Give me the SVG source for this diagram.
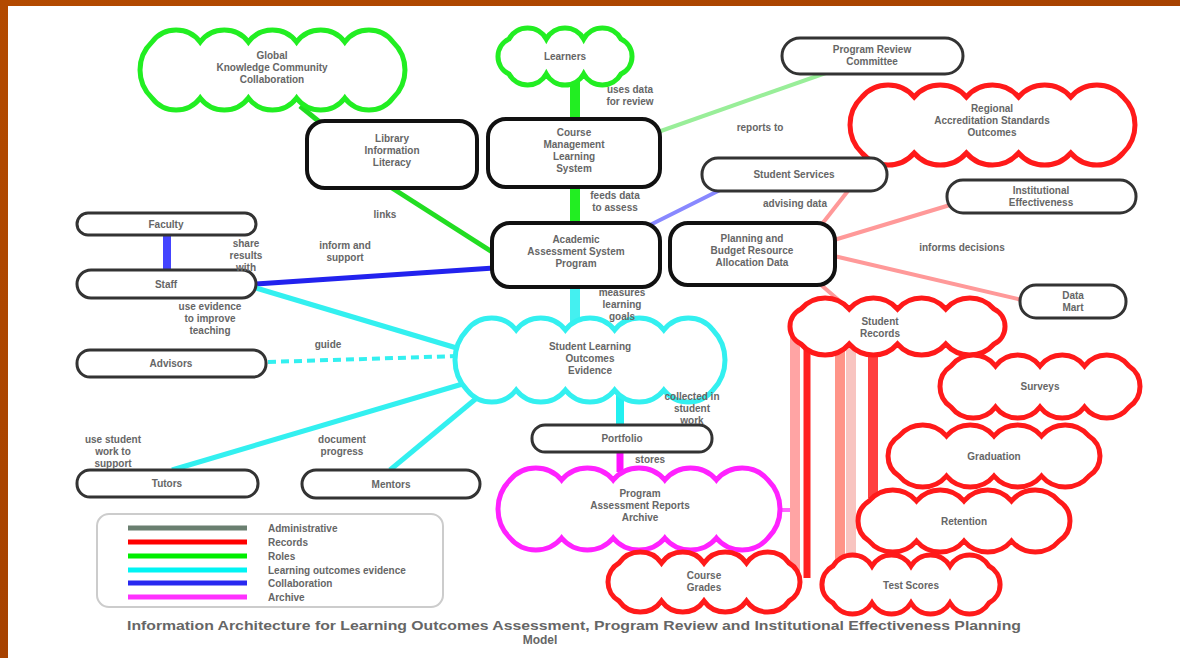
<svg xmlns="http://www.w3.org/2000/svg" width="1180" height="658" viewBox="0 0 1180 658">
<defs>
<linearGradient id="bg" x1="0" y1="0" x2="1" y2="1">
<stop offset="0" stop-color="#b34a00"/><stop offset="1" stop-color="#9a3a00"/>
</linearGradient>
</defs>
<style>
text{font-family:"Liberation Sans",Arial,sans-serif;font-size:10px;font-weight:bold;fill:#666;text-anchor:middle}
.lbl{fill:#777}
.cloud{fill:#fff;stroke-width:5}
.gc{stroke:#22ee22}.rc{stroke:#ff1a1a}.cc{stroke:#33f0f0}.mc{stroke:#ff22ff}
.box{fill:#fff;stroke:#111;stroke-width:4}
.oval{fill:#fff;stroke:#333;stroke-width:3}
.c{fill:none;stroke-linecap:butt}
.lg{text-anchor:start}
</style>
<rect width="1180" height="658" fill="url(#bg)"/>
<rect x="8" y="6" width="1172" height="652" fill="#fff"/>

<g id="connectors" class="c">
<line x1="575" y1="80" x2="575" y2="225" stroke="#22ee22" stroke-width="10"/>
<line x1="300" y1="106" x2="322" y2="124" stroke="#22dd22" stroke-width="5"/>
<line x1="392" y1="188" x2="497" y2="255" stroke="#22dd22" stroke-width="5"/>
<line x1="658" y1="132" x2="840" y2="68" stroke="#99ee99" stroke-width="4"/>
<line x1="167" y1="234" x2="167" y2="271" stroke="#4444ff" stroke-width="8"/>
<line x1="256" y1="284" x2="494" y2="268" stroke="#2222ee" stroke-width="5"/>
<line x1="648" y1="226" x2="722" y2="189" stroke="#8888ff" stroke-width="4"/>
<line x1="822" y1="224" x2="880" y2="150" stroke="#ff9999" stroke-width="4"/>
<line x1="834" y1="240" x2="950" y2="205" stroke="#ff9999" stroke-width="4"/>
<line x1="834" y1="256" x2="1022" y2="300" stroke="#ff9999" stroke-width="4"/>
<line x1="820" y1="284" x2="850" y2="310" stroke="#ff9999" stroke-width="4"/>
<line x1="575" y1="286" x2="575" y2="330" stroke="#44f0f0" stroke-width="10"/>
<line x1="256" y1="288" x2="470" y2="352" stroke="#33f0f0" stroke-width="5"/>
<line x1="268" y1="362" x2="458" y2="356" stroke="#33f0f0" stroke-width="4" stroke-dasharray="8 5"/>
<line x1="172" y1="470" x2="476" y2="380" stroke="#33f0f0" stroke-width="5"/>
<line x1="390" y1="470" x2="484" y2="392" stroke="#33f0f0" stroke-width="5"/>
<line x1="620" y1="395" x2="620" y2="426" stroke="#22f0f0" stroke-width="8"/>
<line x1="620" y1="451" x2="620" y2="472" stroke="#ff11ff" stroke-width="7"/>
<line x1="775" y1="510" x2="795" y2="510" stroke="#ff66ff" stroke-width="4"/>
<line x1="795" y1="320" x2="795" y2="575" stroke="#ffa4a4" stroke-width="10"/>
<line x1="807" y1="320" x2="807" y2="578" stroke="#ff2020" stroke-width="7"/>
<line x1="840" y1="345" x2="840" y2="562" stroke="#ff9488" stroke-width="10"/>
<line x1="851" y1="345" x2="851" y2="562" stroke="#f8c4c0" stroke-width="10"/>
<line x1="873" y1="350" x2="873" y2="498" stroke="#ff4040" stroke-width="10"/>
</g>

<g id="node-g1"><path class="cloud gc" d="M152,98 A38.7,38.7 0 0 1 152,42 A30.2,30.2 0 0 1 200.2,42 A30.2,30.2 0 0 1 248.4,42 A30.2,30.2 0 0 1 296.6,42 A30.2,30.2 0 0 1 344.8,42 A30.2,30.2 0 0 1 393,42 A38.7,38.7 0 0 1 393,98 A30.2,30.2 0 0 1 344.8,98 A30.2,30.2 0 0 1 296.6,98 A30.2,30.2 0 0 1 248.4,98 A30.2,30.2 0 0 1 200.2,98 A30.2,30.2 0 0 1 152,98 Z"/>
<text x="272" y="59">Global</text><text x="272" y="71">Knowledge Community</text><text x="272" y="83">Collaboration</text></g>

<g id="node-g2"><path class="cloud gc" d="M509,74 A19.4,19.4 0 0 1 509,39 A21.3,21.3 0 0 1 546.3,39 A21.3,21.3 0 0 1 583.7,39 A21.3,21.3 0 0 1 621,39 A19.4,19.4 0 0 1 621,74 A21.3,21.3 0 0 1 583.7,74 A21.3,21.3 0 0 1 546.3,74 A21.3,21.3 0 0 1 509,74 Z"/>
<text x="565" y="60">Learners</text></g>

<g id="node-r1"><path class="cloud rc" d="M862,153 A38.7,38.7 0 0 1 862,97 A34.4,34.4 0 0 1 914.2,97 A34.4,34.4 0 0 1 966.4,97 A34.4,34.4 0 0 1 1018.6,97 A34.4,34.4 0 0 1 1070.8,97 A34.4,34.4 0 0 1 1123,97 A38.7,38.7 0 0 1 1123,153 A34.4,34.4 0 0 1 1070.8,153 A34.4,34.4 0 0 1 1018.6,153 A34.4,34.4 0 0 1 966.4,153 A34.4,34.4 0 0 1 914.2,153 A34.4,34.4 0 0 1 862,153 Z"/>
<text x="992" y="112">Regional</text><text x="992" y="124">Accreditation Standards</text><text x="992" y="136">Outcomes</text></g>

<g id="node-b1"><rect class="box" x="307" y="121" width="170" height="67" rx="18"/>
<text x="392" y="142">Library</text><text x="392" y="154">Information</text><text x="392" y="166">Literacy</text></g>
<g id="node-b2"><rect class="box" x="488" y="119" width="172" height="68" rx="18"/>
<text x="574" y="136">Course</text><text x="574" y="148">Management</text><text x="574" y="160">Learning</text><text x="574" y="172">System</text></g>
<g id="node-b3"><rect class="box" x="492" y="223" width="168" height="64" rx="18"/>
<text x="576" y="243">Academic</text><text x="576" y="255">Assessment System</text><text x="576" y="267">Program</text></g>
<g id="node-b4"><rect class="box" x="670" y="223" width="165" height="62" rx="18"/>
<text x="752" y="242">Planning and</text><text x="752" y="254">Budget Resource</text><text x="752" y="266">Allocation Data</text></g>

<g id="node-o1"><rect class="oval" x="782" y="38" width="181" height="36" rx="18"/>
<text x="872" y="53">Program Review</text><text x="872" y="65">Committee</text></g>
<g id="node-o2"><rect class="oval" x="702" y="158" width="185" height="33" rx="16"/>
<text x="794" y="178">Student Services</text></g>
<g id="node-o3"><rect class="oval" x="947" y="180" width="189" height="33" rx="16"/>
<text x="1041" y="194">Institutional</text><text x="1041" y="206">Effectiveness</text></g>
<g id="node-o4"><rect class="oval" x="1020" y="285" width="106" height="33" rx="16"/>
<text x="1073" y="299">Data</text><text x="1073" y="311">Mart</text></g>
<g id="node-l1"><rect class="oval" x="77" y="213" width="179" height="22" rx="11"/>
<text x="166" y="228">Faculty</text></g>
<g id="node-l2"><rect class="oval" x="77" y="270" width="179" height="28" rx="14"/>
<text x="166" y="288">Staff</text></g>
<g id="node-l3"><rect class="oval" x="77" y="350" width="189" height="27" rx="13"/>
<text x="171" y="367">Advisors</text></g>
<g id="node-l4"><rect class="oval" x="77" y="470" width="181" height="27" rx="13"/>
<text x="167" y="487">Tutors</text></g>
<g id="node-l5"><rect class="oval" x="302" y="470" width="178" height="28" rx="14"/>
<text x="391" y="488">Mentors</text></g>
<g id="node-o5"><rect class="oval" x="532" y="425" width="180" height="27" rx="13"/>
<text x="622" y="442">Portfolio</text></g>

<g id="node-cyan"><path class="cloud cc" d="M467,390 A43.5,43.5 0 0 1 467,330 A31.2,31.2 0 0 1 516.2,330 A31.2,31.2 0 0 1 565.4,330 A31.2,31.2 0 0 1 614.6,330 A31.2,31.2 0 0 1 663.8,330 A31.2,31.2 0 0 1 713,330 A43.5,43.5 0 0 1 713,390 A31.2,31.2 0 0 1 663.8,390 A31.2,31.2 0 0 1 614.6,390 A31.2,31.2 0 0 1 565.4,390 A31.2,31.2 0 0 1 516.2,390 A31.2,31.2 0 0 1 467,390 Z"/>
<text x="590" y="350">Student Learning</text><text x="590" y="362">Outcomes</text><text x="590" y="374">Evidence</text></g>

<g id="node-mag"><path class="cloud mc" d="M510,538 A41,41 0 0 1 510,480 A33.7,33.7 0 0 1 561.6,480 A33.7,33.7 0 0 1 613.2,480 A33.7,33.7 0 0 1 664.8,480 A33.7,33.7 0 0 1 716.4,480 A33.7,33.7 0 0 1 768,480 A41,41 0 0 1 768,538 A33.7,33.7 0 0 1 716.4,538 A33.7,33.7 0 0 1 664.8,538 A33.7,33.7 0 0 1 613.2,538 A33.7,33.7 0 0 1 561.6,538 A33.7,33.7 0 0 1 510,538 Z"/>
<text x="640" y="497">Program</text><text x="640" y="509">Assessment Reports</text><text x="640" y="521">Archive</text></g>

<g id="node-rs1"><path class="cloud rc" d="M801,344 A19.4,19.4 0 0 1 801,309 A32,32 0 0 1 849.25,309 A32,32 0 0 1 897.5,309 A32,32 0 0 1 945.75,309 A32,32 0 0 1 994,309 A19.4,19.4 0 0 1 994,344 A32,32 0 0 1 945.75,344 A32,32 0 0 1 897.5,344 A32,32 0 0 1 849.25,344 A32,32 0 0 1 801,344 Z"/>
<text x="880" y="325">Student</text><text x="880" y="337">Records</text></g>
<g id="node-rs2"><path class="cloud rc" d="M951,407 A24.6,24.6 0 0 1 951,366 A28,28 0 0 1 995.5,366 A28,28 0 0 1 1040,366 A28,28 0 0 1 1084.5,366 A28,28 0 0 1 1129,366 A24.6,24.6 0 0 1 1129,407 A28,28 0 0 1 1084.5,407 A28,28 0 0 1 1040,407 A28,28 0 0 1 995.5,407 A28,28 0 0 1 951,407 Z"/>
<text x="1040" y="390">Surveys</text></g>
<g id="node-rs3"><path class="cloud rc" d="M899,476 A23.7,23.7 0 0 1 899,436 A31.1,31.1 0 0 1 946.5,436 A31.1,31.1 0 0 1 994,436 A31.1,31.1 0 0 1 1041.5,436 A31.1,31.1 0 0 1 1089,436 A23.7,23.7 0 0 1 1089,476 A31.1,31.1 0 0 1 1041.5,476 A31.1,31.1 0 0 1 994,476 A31.1,31.1 0 0 1 946.5,476 A31.1,31.1 0 0 1 899,476 Z"/>
<text x="994" y="460">Graduation</text></g>
<g id="node-rs4"><path class="cloud rc" d="M869,541 A23.7,23.7 0 0 1 869,501 A31.1,31.1 0 0 1 916.5,501 A31.1,31.1 0 0 1 964,501 A31.1,31.1 0 0 1 1011.5,501 A31.1,31.1 0 0 1 1059,501 A23.7,23.7 0 0 1 1059,541 A31.1,31.1 0 0 1 1011.5,541 A31.1,31.1 0 0 1 964,541 A31.1,31.1 0 0 1 916.5,541 A31.1,31.1 0 0 1 869,541 Z"/>
<text x="964" y="525">Retention</text></g>
<g id="node-rs5"><path class="cloud rc" d="M619,601 A21.9,21.9 0 0 1 619,563 A26,26 0 0 1 661.5,563 A26,26 0 0 1 704,563 A26,26 0 0 1 746.5,563 A26,26 0 0 1 789,563 A21.9,21.9 0 0 1 789,601 A26,26 0 0 1 746.5,601 A26,26 0 0 1 704,601 A26,26 0 0 1 661.5,601 A26,26 0 0 1 619,601 Z"/>
<text x="704" y="579">Course</text><text x="704" y="591">Grades</text></g>
<g id="node-rs6"><path class="cloud rc" d="M833,603 A21,21 0 0 1 833,566 A22.8,22.8 0 0 1 872,566 A22.8,22.8 0 0 1 911,566 A22.8,22.8 0 0 1 950,566 A22.8,22.8 0 0 1 989,566 A21,21 0 0 1 989,603 A22.8,22.8 0 0 1 950,603 A22.8,22.8 0 0 1 911,603 A22.8,22.8 0 0 1 872,603 A22.8,22.8 0 0 1 833,603 Z"/>
<text x="911" y="589">Test Scores</text></g>

<g id="labels" class="lbl">
<text x="630" y="93">uses data</text><text x="630" y="105">for review</text>
<text x="760" y="131">reports to</text>
<text x="615" y="199">feeds data</text><text x="615" y="211">to assess</text>
<text x="385" y="218">links</text>
<text x="246" y="247">share</text><text x="246" y="259">results</text><text x="246" y="271">with</text>
<text x="345" y="249">inform and</text><text x="345" y="261">support</text>
<text x="210" y="310">use evidence</text><text x="210" y="322">to improve</text><text x="210" y="334">teaching</text>
<text x="328" y="348">guide</text>
<text x="622" y="296">measures</text><text x="622" y="308">learning</text><text x="622" y="320">goals</text>
<text x="692" y="400">collected in</text><text x="692" y="412">student</text><text x="692" y="424">work</text>
<text x="650" y="463">stores</text>
<text x="113" y="443">use student</text><text x="113" y="455">work to</text><text x="113" y="467">support</text>
<text x="342" y="443">document</text><text x="342" y="455">progress</text>
<text x="962" y="251">informs decisions</text>
<text x="795" y="207">advising data</text>
</g>

<g id="legend">
<rect x="97" y="514" width="346" height="93" rx="12" fill="#fff" stroke="#cccccc" stroke-width="2"/>
<line x1="128" y1="528" x2="247" y2="528" stroke="#6a7f70" stroke-width="5"/>
<line x1="128" y1="542" x2="247" y2="542" stroke="#ff0000" stroke-width="5"/>
<line x1="128" y1="556" x2="247" y2="556" stroke="#00ee00" stroke-width="5"/>
<line x1="128" y1="570" x2="247" y2="570" stroke="#00f4f4" stroke-width="5"/>
<line x1="128" y1="583" x2="247" y2="583" stroke="#2828f0" stroke-width="5"/>
<line x1="128" y1="597" x2="247" y2="597" stroke="#ff30ff" stroke-width="5"/>
<text class="lg" x="268" y="532">Administrative</text>
<text class="lg" x="268" y="546">Records</text>
<text class="lg" x="268" y="560">Roles</text>
<text class="lg" x="268" y="574">Learning outcomes evidence</text>
<text class="lg" x="268" y="587">Collaboration</text>
<text class="lg" x="268" y="601">Archive</text>
</g>

<g id="caption">
<text class="lg" x="127" y="630" style="font-size:13px" textLength="894" lengthAdjust="spacingAndGlyphs">Information Architecture for Learning Outcomes Assessment, Program Review and Institutional Effectiveness Planning</text>
<text x="540" y="644" style="font-size:12px">Model</text>
</g>
</svg>
